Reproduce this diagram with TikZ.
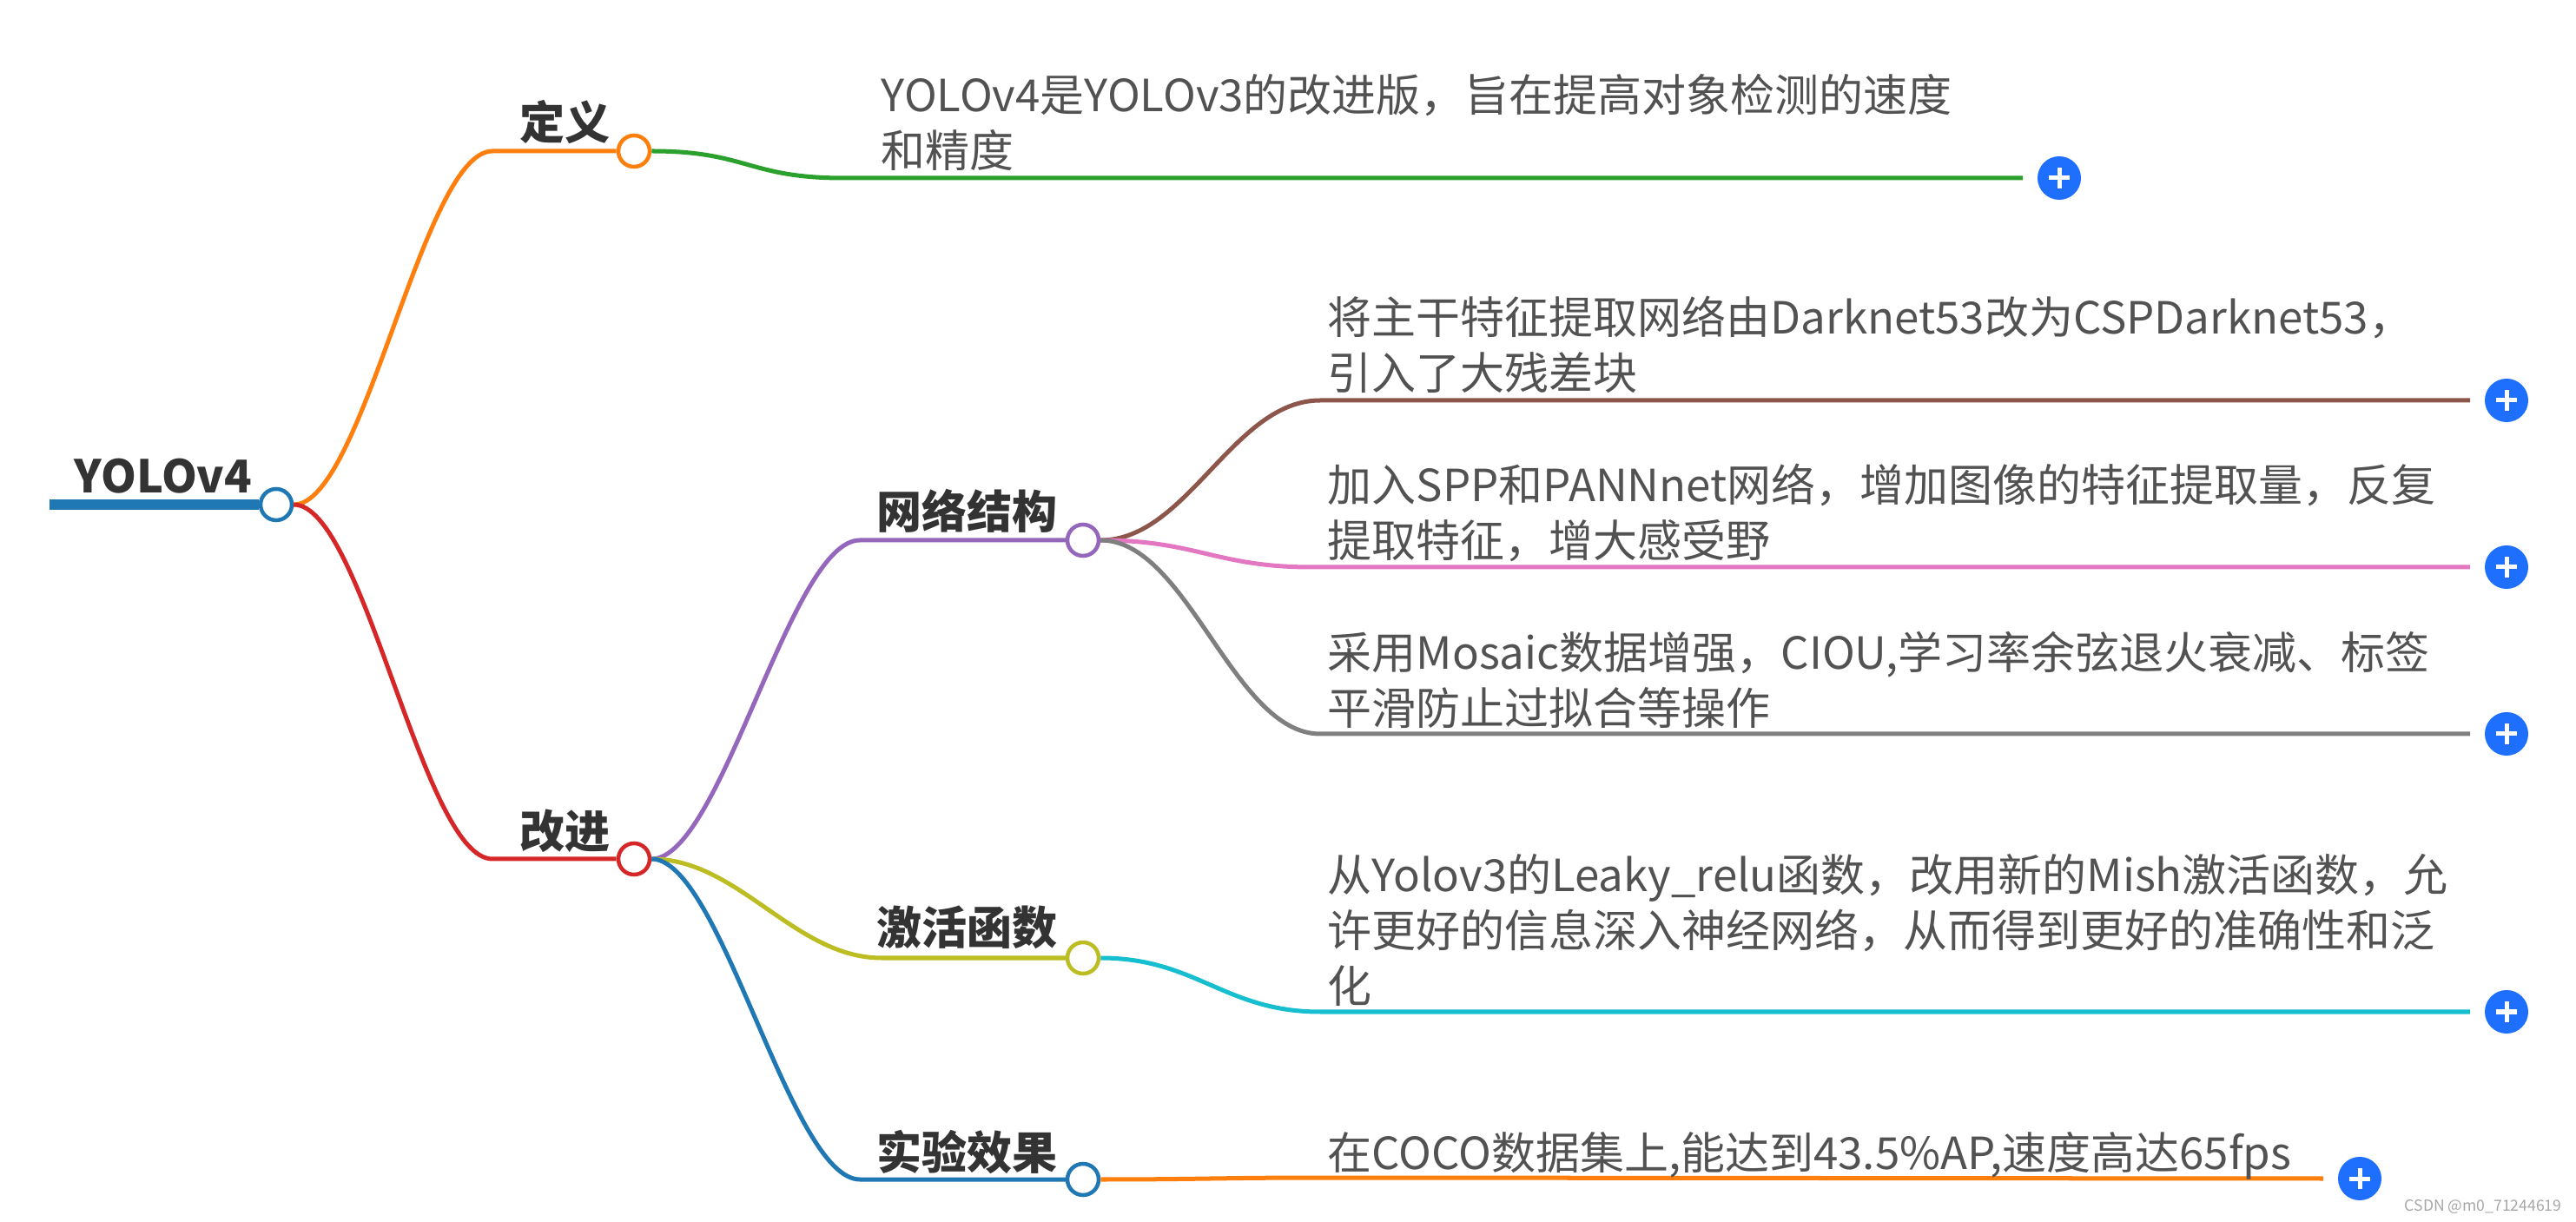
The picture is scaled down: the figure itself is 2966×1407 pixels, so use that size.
\documentclass[tikz,border=0pt]{standalone}
\usepackage{fontspec}
\setmainfont{Noto Sans CJK SC}
\definecolor{ink}{HTML}{333333}
\definecolor{tblue}{HTML}{1F77B4}
\definecolor{torange}{HTML}{FF7F0E}
\definecolor{tgreen}{HTML}{2CA02C}
\definecolor{tred}{HTML}{D62728}
\definecolor{tpurple}{HTML}{9467BD}
\definecolor{tbrown}{HTML}{8C564B}
\definecolor{tpink}{HTML}{E377C2}
\definecolor{tgray}{HTML}{7F7F7F}
\definecolor{tolive}{HTML}{BCBD22}
\definecolor{tcyan}{HTML}{17BECF}
\definecolor{plusblue}{HTML}{1F6FFF}
\newcommand{\bough}[5]% colour, from, knee, to, pull
{\draw[#1, edge] (#2) .. controls +(#5,0) and +(-#5,0) .. (#3) -- (#4);
}

\begin{document}
\begin{tikzpicture}[x=0.01cm, y=-0.01cm,
		edge/.style={line width=0.05cm},
		dot/.style={circle, draw=#1, fill=white, line width=0.045cm, minimum size=0.36cm, inner sep=0},
		plusbtn/.style={circle, fill=plusblue, minimum size=0.5cm, inner sep=0, outer sep=0.17cm,
			path picture={\draw[white, line width=0.05cm]
				(path picture bounding box.center) +(-0.12cm,0cm) -- +(0.12cm,0cm)
				(path picture bounding box.center) +(0cm,-0.12cm) -- +(0cm,0.12cm);}},
		title/.style={inner sep=0, text=ink, font=\fontsize{14.8}{18}\selectfont\bfseries},
		leaf/.style={anchor=north west, inner sep=0, align=left, text=ink!85, font=\fontsize{14.5}{18.2}\selectfont}]
		\useasboundingbox (0,0) rectangle (2966,1407);
		% circles of the map
		\coordinate (start) at (57,581);
		\node[dot=tblue] (yolo) at (318,581) {};
		\node[dot=torange] (def) at (730,174) {};
		\node[dot=tred] (imp) at (730,989) {};
		\node[dot=tpurple] (net) at (1247,622) {};
		\node[dot=tolive] (act) at (1247,1103) {};
		\node[dot=tblue] (exp) at (1247,1358) {};
		\node[plusbtn] (p1) at (2371,205) {};
		\node[plusbtn] (p2) at (2886,461) {};
		\node[plusbtn] (p3) at (2886,653) {};
		\node[plusbtn] (p4) at (2886,845) {};
		\node[plusbtn] (p5) at (2886,1165) {};
		\node[plusbtn] (p6) at (2717,1357) {};
		% knees where a curve turns into a straight line
		\coordinate (k1) at (567,174);
		\coordinate (k2) at (567,989);
		\coordinate (k3) at (971,205);
		\coordinate (k4) at (990,622);
		\coordinate (k5) at (1015,1103);
		\coordinate (k6) at (990,1358);
		\coordinate (k7) at (1520,461);
		\coordinate (k8) at (1510,653);
		\coordinate (k9) at (1520,845);
		\coordinate (k10) at (1520,1165);
		\coordinate (k11) at (1520,1356);

		\draw[tblue, line width=0.12cm] (start) -- (yolo.west);
		\bough{torange}{yolo.east}{k1}{def.west}{80}
		\bough{tred}{yolo.east}{k2}{imp.west}{80}
		\bough{tgreen}{def.east}{k3}{p1.west}{110}
		\bough{tpurple}{imp.east}{k4}{net.west}{80}
		\bough{tolive}{imp.east}{k5}{act.west}{100}
		\bough{tblue}{imp.east}{k6}{exp.west}{80}
		\bough{tbrown}{net.east}{k7}{p2.west}{100}
		\bough{tpink}{net.east}{k8}{p3.west}{110}
		\bough{tgray}{net.east}{k9}{p4.west}{100}
		\bough{tcyan}{act.east}{k10}{p5.west}{110}
		\bough{torange}{exp.east}{k11}{p6.west}{110}

		% labels
		\node[title, anchor=base west] (tyolo) at (85,568) {YOLOv4};
		\node[title, anchor=base east] (tdef) at (703,161) {定义};
		\node[title, anchor=base east] (timp) at (703,977) {改进};
		\node[title, anchor=base east] (tnet) at (1218,609) {网络结构};
		\node[title, anchor=base east] (tact) at (1218,1088) {激活函数};
		\node[title, anchor=base east] (texp) at (1218,1346) {实验效果};
		\node[leaf] (ldef) at (1014,85) {YOLOv4是YOLOv3的改进版，旨在提高对象检测的速度\\和精度};
		\node[leaf] (lbb) at (1528,340) {将主干特征提取网络由Darknet53改为CSPDarknet53，\\引入了大残差块};
		\node[leaf] (lspp) at (1528,533) {加入SPP和PANNnet网络，增加图像的特征提取量，反复\\提取特征，增大感受野};
		\node[leaf] (ltr) at (1528,726) {采用Mosaic数据增强，CIOU,学习率余弦退火衰减、标签\\平滑防止过拟合等操作};
		\node[leaf] (lmish) at (1528,983) {从Yolov3的Leaky\_relu函数，改用新的Mish激活函数，允\\许更好的信息深入神经网络，从而得到更好的准确性和泛\\化};
		\node[leaf] (lcoco) at (1528,1303) {在COCO数据集上,能达到43.5\%AP,速度高达65fps};
		\node[anchor=east, inner sep=0, text=gray!70, font=\fontsize{5}{6}\selectfont] (mark) at (2950,1389) {CSDN @m0\_71244619};
	\end{tikzpicture}
\end{document}
